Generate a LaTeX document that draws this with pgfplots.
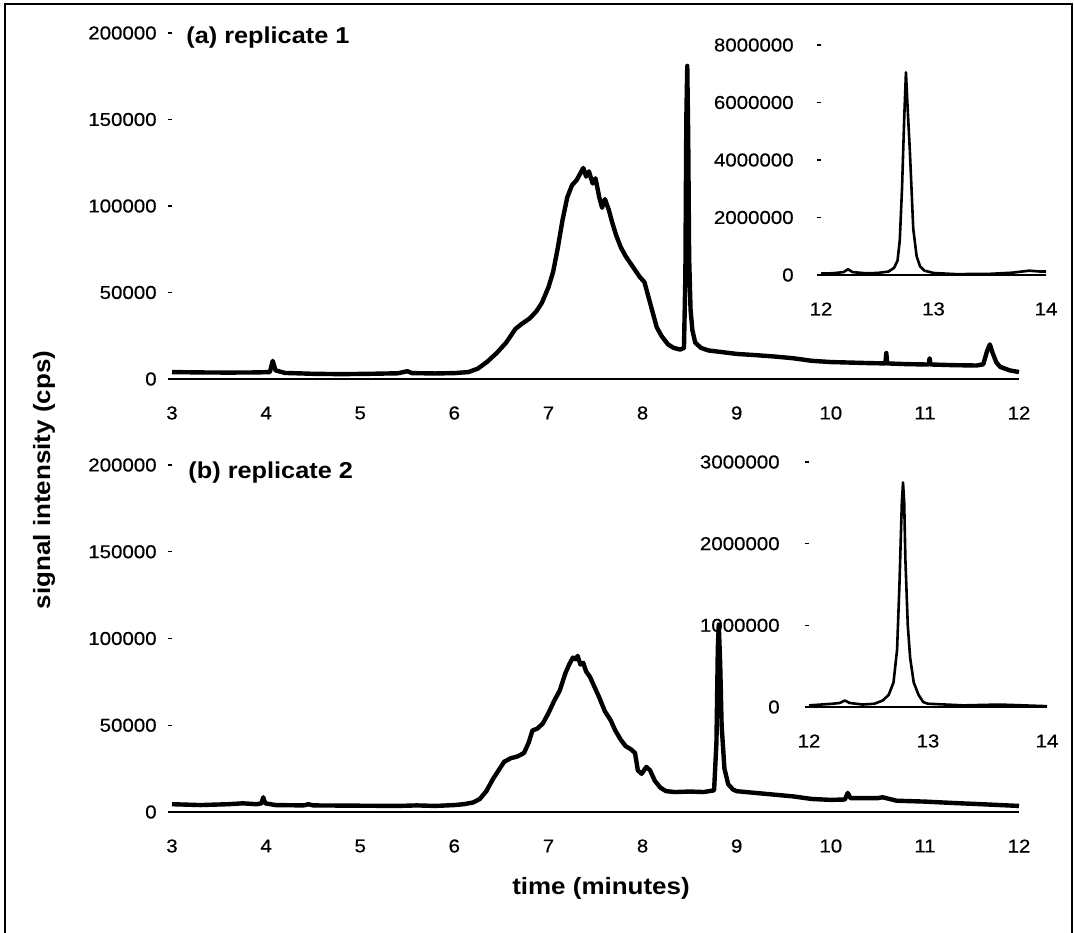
\documentclass[border=0pt]{standalone}
\usepackage{fontspec}
\setmainfont{Liberation Sans}[FakeStretch=1.1]
\newfontfamily\tickfont{Liberation Sans}[FakeStretch=1.1, FakeBold=0.5]
\usepackage{pgfplots}
\pgfplotsset{compat=1.18}
\usepackage{pgfplotstable}

\pgfplotstableread{
t v
3.00 4000
3.30 3800
3.60 3700
3.90 3800
4.04 4000
4.07 10500
4.10 5000
4.20 3500
4.50 3000
4.80 2800
5.10 3000
5.40 3300
5.50 4500
5.55 3400
5.80 3200
6.00 3400
6.15 4000
6.25 6000
6.35 10000
6.45 15000
6.55 21000
6.65 29000
6.72 32000
6.80 35000
6.87 39000
6.93 44000
7.00 53000
7.05 62000
7.10 76000
7.15 92000
7.20 105000
7.25 112000
7.30 115000
7.34 119000
7.37 122000
7.40 117000
7.43 120000
7.47 113000
7.50 116000
7.54 105000
7.57 99000
7.60 104000
7.64 98000
7.68 90000
7.72 83000
7.77 76000
7.82 71000
7.87 67000
7.92 63000
7.97 59000
8.02 56000
8.05 50000
8.10 40000
8.15 30000
8.20 25000
8.27 20000
8.33 18000
8.40 17000
8.44 18000
8.455 60000
8.465 150000
8.475 181000
8.485 140000
8.495 70000
8.51 40000
8.53 28000
8.56 21000
8.62 18000
8.70 16500
8.85 15500
9.00 14500
9.20 13800
9.40 13000
9.60 12000
9.80 10500
10.00 9800
10.20 9500
10.40 9200
10.58 9000
10.59 15000
10.60 9000
10.80 8600
11.00 8400
11.04 8400
11.05 12000
11.06 8400
11.30 8000
11.55 7800
11.62 8500
11.66 16000
11.69 20000
11.72 15000
11.76 9500
11.80 7000
11.90 5000
12.00 4000
}\repA

\pgfplotstableread{
t v
12.00 0.05
12.10 0.06
12.20 0.10
12.24 0.20
12.28 0.10
12.40 0.06
12.50 0.07
12.60 0.12
12.65 0.25
12.68 0.50
12.70 1.20
12.72 3.00
12.74 5.50
12.755 7.05
12.77 5.80
12.79 4.30
12.82 1.60
12.85 0.65
12.88 0.30
12.92 0.15
13.00 0.07
13.20 0.03
13.50 0.04
13.70 0.08
13.85 0.15
13.95 0.12
14.00 0.12
}\insetA

\pgfplotstableread{
t v
3.00 4500
3.30 4000
3.60 4500
3.75 5000
3.90 4500
3.95 5000
3.97 8500
3.99 5000
4.10 4000
4.40 3800
4.45 4500
4.50 3800
4.80 3700
5.10 3600
5.40 3500
5.60 3800
5.80 3500
6.00 4000
6.10 4500
6.20 5500
6.27 7500
6.34 12000
6.41 19000
6.47 24000
6.53 29000
6.60 31000
6.67 32000
6.74 34000
6.79 40000
6.83 47000
6.88 48000
6.94 51000
7.00 57000
7.06 64000
7.12 70000
7.18 80000
7.22 85000
7.26 89000
7.29 88000
7.31 90000
7.34 85000
7.37 86000
7.40 81000
7.44 78000
7.49 72000
7.54 66000
7.60 58000
7.66 53000
7.71 47000
7.77 41500
7.82 38000
7.88 36000
7.92 34000
7.95 24000
7.99 22000
8.04 26000
8.08 24000
8.13 18000
8.19 14000
8.25 12000
8.35 11500
8.50 11800
8.65 11500
8.76 12500
8.785 40000
8.80 95000
8.81 108000
8.825 85000
8.84 50000
8.87 25000
8.91 16000
8.96 13000
9.00 12000
9.20 11000
9.40 10000
9.60 9000
9.80 7500
10.00 7000
10.15 7200
10.18 11000
10.21 8000
10.50 8000
10.55 8500
10.70 6500
11.00 6000
11.30 5200
11.60 4500
12.00 3500
}\repB

\pgfplotstableread{
t v
12.00 0.02
12.10 0.03
12.20 0.04
12.26 0.05
12.30 0.08
12.34 0.05
12.45 0.03
12.55 0.04
12.62 0.08
12.67 0.15
12.71 0.30
12.74 0.70
12.76 1.50
12.78 2.50
12.79 2.75
12.80 2.50
12.81 1.80
12.83 1.00
12.85 0.60
12.88 0.30
12.92 0.15
12.96 0.06
13.00 0.04
13.30 0.02
13.60 0.03
13.80 0.02
14.00 0.01
}\insetB

\pgfplotsset{
  chart/.style={
    scale only axis, anchor=south west, clip=false,
    scaled x ticks=false, scaled y ticks=false,
    axis x line*=bottom, axis y line*=left,
    x axis line style={-, line width=0.6pt},
    y axis line style={draw=none},
    xtick style={draw=none},
    ytick style={line width=0.7pt, black},
    tick align=outside, major tick length=2pt,
    tick label style={font=\tickfont\fontsize{9.3}{11}\selectfont},
    xticklabel style={anchor=center, inner sep=0pt, yshift=-15pt},
    yticklabel style={anchor=east, inner sep=0pt, xshift=-5.5pt},
  },
}

\begin{document}
\begin{tikzpicture}
\useasboundingbox (0,0) rectangle (537pt,466pt);
\draw[line width=1pt] (2.5pt,-3pt) -- (2.5pt,464pt) -- (536pt,464pt) -- (536pt,-3pt);

% ---- top main panel
\begin{axis}[chart, at={(86pt,276.5pt)}, width=423.5pt, height=173pt,
  xmin=3, xmax=12, ymin=0, ymax=200000,
  xtick={3,4,5,6,7,8,9,10,11,12}, xticklabels={3,4,5,6,7,8,9,10,11,12},
  ytick={0,50000,100000,150000,200000}, yticklabels={0,50000,100000,150000,200000}]
\addplot[black, line width=2.2pt, line join=round, no markers] table[x=t,y=v] {\repA};
\node[anchor=west, inner sep=0pt, font=\fontsize{11.5}{13}\selectfont\bfseries] at (rel axis cs:0.0165,0.988) {(a) replicate 1};
\end{axis}

% ---- top inset
\begin{axis}[chart, at={(410.5pt,328.5pt)}, width=112.5pt, height=115pt,
  xmin=12, xmax=14, ymin=0, ymax=8,
  xtick={12,13,14}, xticklabels={12,13,14},
  ytick={0,2,4,6,8}, yticklabels={0,2000000,4000000,6000000,8000000},
  yticklabel style={xshift=-6pt}]
\addplot[black, line width=1.3pt, line join=round, no markers] table[x=t,y=v] {\insetA};
\end{axis}

% ---- bottom main panel
\begin{axis}[chart, at={(86pt,60pt)}, width=423.5pt, height=173.5pt,
  xmin=3, xmax=12, ymin=0, ymax=200000,
  xtick={3,4,5,6,7,8,9,10,11,12}, xticklabels={3,4,5,6,7,8,9,10,11,12},
  ytick={0,50000,100000,150000,200000}, yticklabels={0,50000,100000,150000,200000}]
\addplot[black, line width=2.2pt, line join=round, no markers] table[x=t,y=v] {\repB};
\node[anchor=west, inner sep=0pt, font=\fontsize{11.5}{13}\selectfont\bfseries] at (rel axis cs:0.019,0.977) {(b) replicate 2};
\node[font=\fontsize{11.8}{14}\selectfont\bfseries] at (rel axis cs:0.5065,-0.219) {time (minutes)};
\node[rotate=90, font=\fontsize{11.8}{14}\selectfont\bfseries] at (rel axis cs:-0.151,0.957) {signal intensity (cps)};
\end{axis}

% ---- bottom inset
\begin{axis}[chart, at={(404.5pt,112.5pt)}, width=119pt, height=122.5pt,
  xmin=12, xmax=14, ymin=0, ymax=3,
  xtick={12,13,14}, xticklabels={12,13,14},
  ytick={0,1,2,3}, yticklabels={0,1000000,2000000,3000000},
  yticklabel style={xshift=-7pt}]
\addplot[black, line width=1.3pt, line join=round, no markers] table[x=t,y=v] {\insetB};
\end{axis}
\end{tikzpicture}
\end{document}
